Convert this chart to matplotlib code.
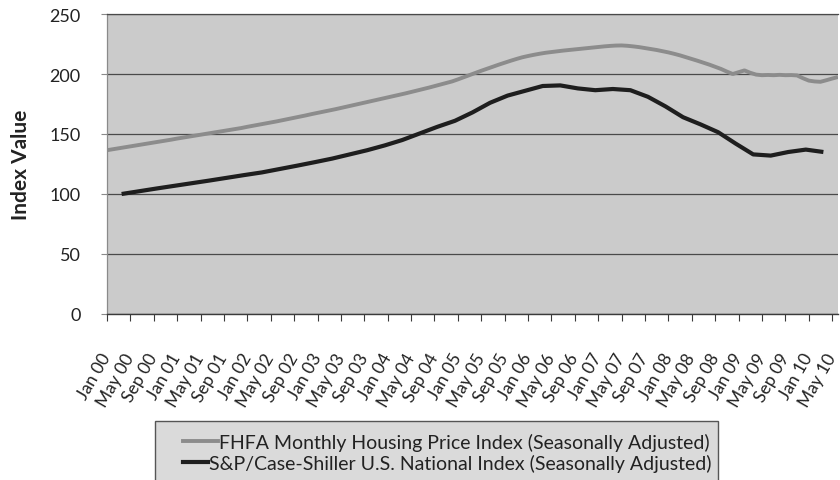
import matplotlib
matplotlib.use('Agg')
import matplotlib.pyplot as plt
from matplotlib.lines import Line2D
from matplotlib.patches import Rectangle
from matplotlib.transforms import ScaledTranslation
import numpy as np

plt.rcParams['font.family'] = ['Lato', 'DejaVu Sans']

# ---------------- data ----------------
tick_labels = ['Jan 00', 'May 00', 'Sep 00', 'Jan 01', 'May 01', 'Sep 01',
               'Jan 02', 'May 02', 'Sep 02', 'Jan 03', 'May 03', 'Sep 03',
               'Jan 04', 'May 04', 'Sep 04', 'Jan 05', 'May 05', 'Sep 05',
               'Jan 06', 'May 06', 'Sep 06', 'Jan 07', 'May 07', 'Sep 07',
               'Jan 08', 'May 08', 'Sep 08', 'Jan 09', 'May 09', 'Sep 09',
               'Jan 10', 'May 10']

# FHFA monthly index, Jan 2000 .. Jun 2010
fhfa = [136.5, 137.3, 138.1, 138.9, 139.7, 140.5, 141.3, 142.1, 142.9, 143.7, 144.5, 145.3,
        146.2, 147.0, 147.8, 148.6, 149.4, 150.2, 151.0, 151.8, 152.6, 153.4, 154.2, 155.0,
        156.0, 156.9, 157.8, 158.7, 159.6, 160.5, 161.5, 162.5, 163.5, 164.5, 165.5, 166.6,
        167.6, 168.6, 169.6, 170.6, 171.7, 172.8, 173.9, 175.0, 176.1, 177.2, 178.3, 179.4,
        180.5, 181.6, 182.7, 183.8, 185.0, 186.2, 187.4, 188.6, 189.9, 191.2, 192.5, 193.8,
        195.5, 197.3, 199.1, 200.9, 202.7, 204.4, 206.1, 207.8, 209.4, 211.0, 212.5, 213.9,
        215.0, 216.0, 216.9, 217.7, 218.3, 218.9, 219.5, 220.0, 220.5, 221.0, 221.5, 222.0,
        222.5, 223.0, 223.4, 223.7, 223.8, 223.5, 223.0, 222.4, 221.6, 220.8, 220.0, 219.0,
        218.0, 216.8, 215.5, 214.0, 212.5, 211.0, 209.4, 207.8, 206.0, 204.2, 202.0, 200.0,
        201.5, 203.0, 201.0, 199.5, 199.0, 199.2, 199.0, 199.3, 199.0, 199.1, 198.8, 196.5,
        194.5, 193.8, 193.5, 194.8, 196.2, 197.5]

# S&P/Case-Shiller national index, quarterly Q1 2000 .. Q1 2010
case_shiller = [100.0, 102.3, 104.6, 106.8,
                109.0, 111.2, 113.5, 115.8,
                118.0, 120.8, 123.6, 126.5,
                129.5, 133.0, 136.5, 140.5,
                145.0, 150.5, 156.0, 161.0,
                168.0, 176.0, 182.0, 186.0,
                190.0, 190.5, 188.0, 186.5,
                187.5, 186.5, 181.0, 173.0,
                164.0, 158.0, 151.5, 142.0,
                133.0, 132.0, 135.0, 137.0,
                135.0]

fhfa_label = 'FHFA Monthly Housing Price Index (Seasonally Adjusted)'
cs_label = 'S&P/Case-Shiller U.S. National Index (Seasonally Adjusted)'

# months since Jan 2000
fhfa_x = np.arange(len(fhfa))
cs_x = np.arange(len(case_shiller)) * 3 + 2.5

# ---------------- figure ----------------
W, H = 840, 481
fig = plt.figure(figsize=(W / 100, H / 100), dpi=100)
fig.patch.set_facecolor('white')
ax = fig.add_axes([107 / W, 1 - 315 / H, 731 / W, 300 / H])
ax.set_facecolor('#cbcbcb')

fhfa_color = '#8c8c8c'
cs_color = '#1e1e1e'
ax.plot(fhfa_x, fhfa, color=fhfa_color, lw=2.8, solid_capstyle='butt', zorder=3)
ax.plot(cs_x, case_shiller, color=cs_color, lw=3.0, solid_capstyle='butt', zorder=4)

ax.set_xlim(0, 125)
ax.set_ylim(0, 250)
ax.set_yticks([0, 50, 100, 150, 200, 250])
ax.set_xticks(np.arange(0, 4 * len(tick_labels), 4))
ax.set_xticklabels(tick_labels, rotation=60, ha='right', va='center',
                   rotation_mode='anchor')
shift = ScaledTranslation(16 / 100, 0, fig.dpi_scale_trans)
for lbl in ax.get_xticklabels():
    lbl.set_transform(lbl.get_transform() + shift)

ax.grid(axis='y', color='#4a4a4a', lw=0.9)
ax.grid(axis='x', visible=False)
ax.spines['right'].set_visible(False)
ax.spines['top'].set_color('#4a4a4a')
ax.spines['top'].set_linewidth(0.9)
ax.spines['left'].set_color('#8a8a8a')
ax.spines['left'].set_linewidth(0.9)
ax.spines['bottom'].set_color('#3a3a3a')
ax.spines['bottom'].set_linewidth(1.0)

ax.tick_params(axis='y', length=4, width=0.8, pad=15, labelsize=13,
               color='#8a8a8a', labelcolor='#222222')
ax.tick_params(axis='x', length=5, width=0.8, pad=24, labelsize=12.5,
               color='#3a3a3a', labelcolor='#222222')

ax.set_ylabel('Index Value', fontsize=15, fontweight='bold', color='#222222')
ax.yaxis.set_label_coords(-0.104, 0.5)

# ---------------- legend ----------------
box = Rectangle((155 / W, 1 - 495 / H), (718 - 155) / W, (495 - 422) / H,
                transform=fig.transFigure, facecolor='#dadada',
                edgecolor='#555555', lw=1.0, zorder=0)
fig.add_artist(box)

h1 = Line2D([], [], color=fhfa_color, lw=2.8)
h2 = Line2D([], [], color=cs_color, lw=3.0)
leg1 = fig.legend([h1], [fhfa_label], loc='center',
                  bbox_to_anchor=(446 / W, 1 - 443 / H), frameon=False,
                  fontsize=14, handlelength=1.8, handletextpad=0.05,
                  borderpad=0, borderaxespad=0)
leg2 = fig.legend([h2], [cs_label], loc='center',
                  bbox_to_anchor=(447 / W, 1 - 464 / H), frameon=False,
                  fontsize=14, handlelength=1.3, handletextpad=0.05,
                  borderpad=0, borderaxespad=0)
for lg in (leg1, leg2):
    for t in lg.get_texts():
        t.set_color('#222222')

fig.savefig('out.png', dpi=100)
